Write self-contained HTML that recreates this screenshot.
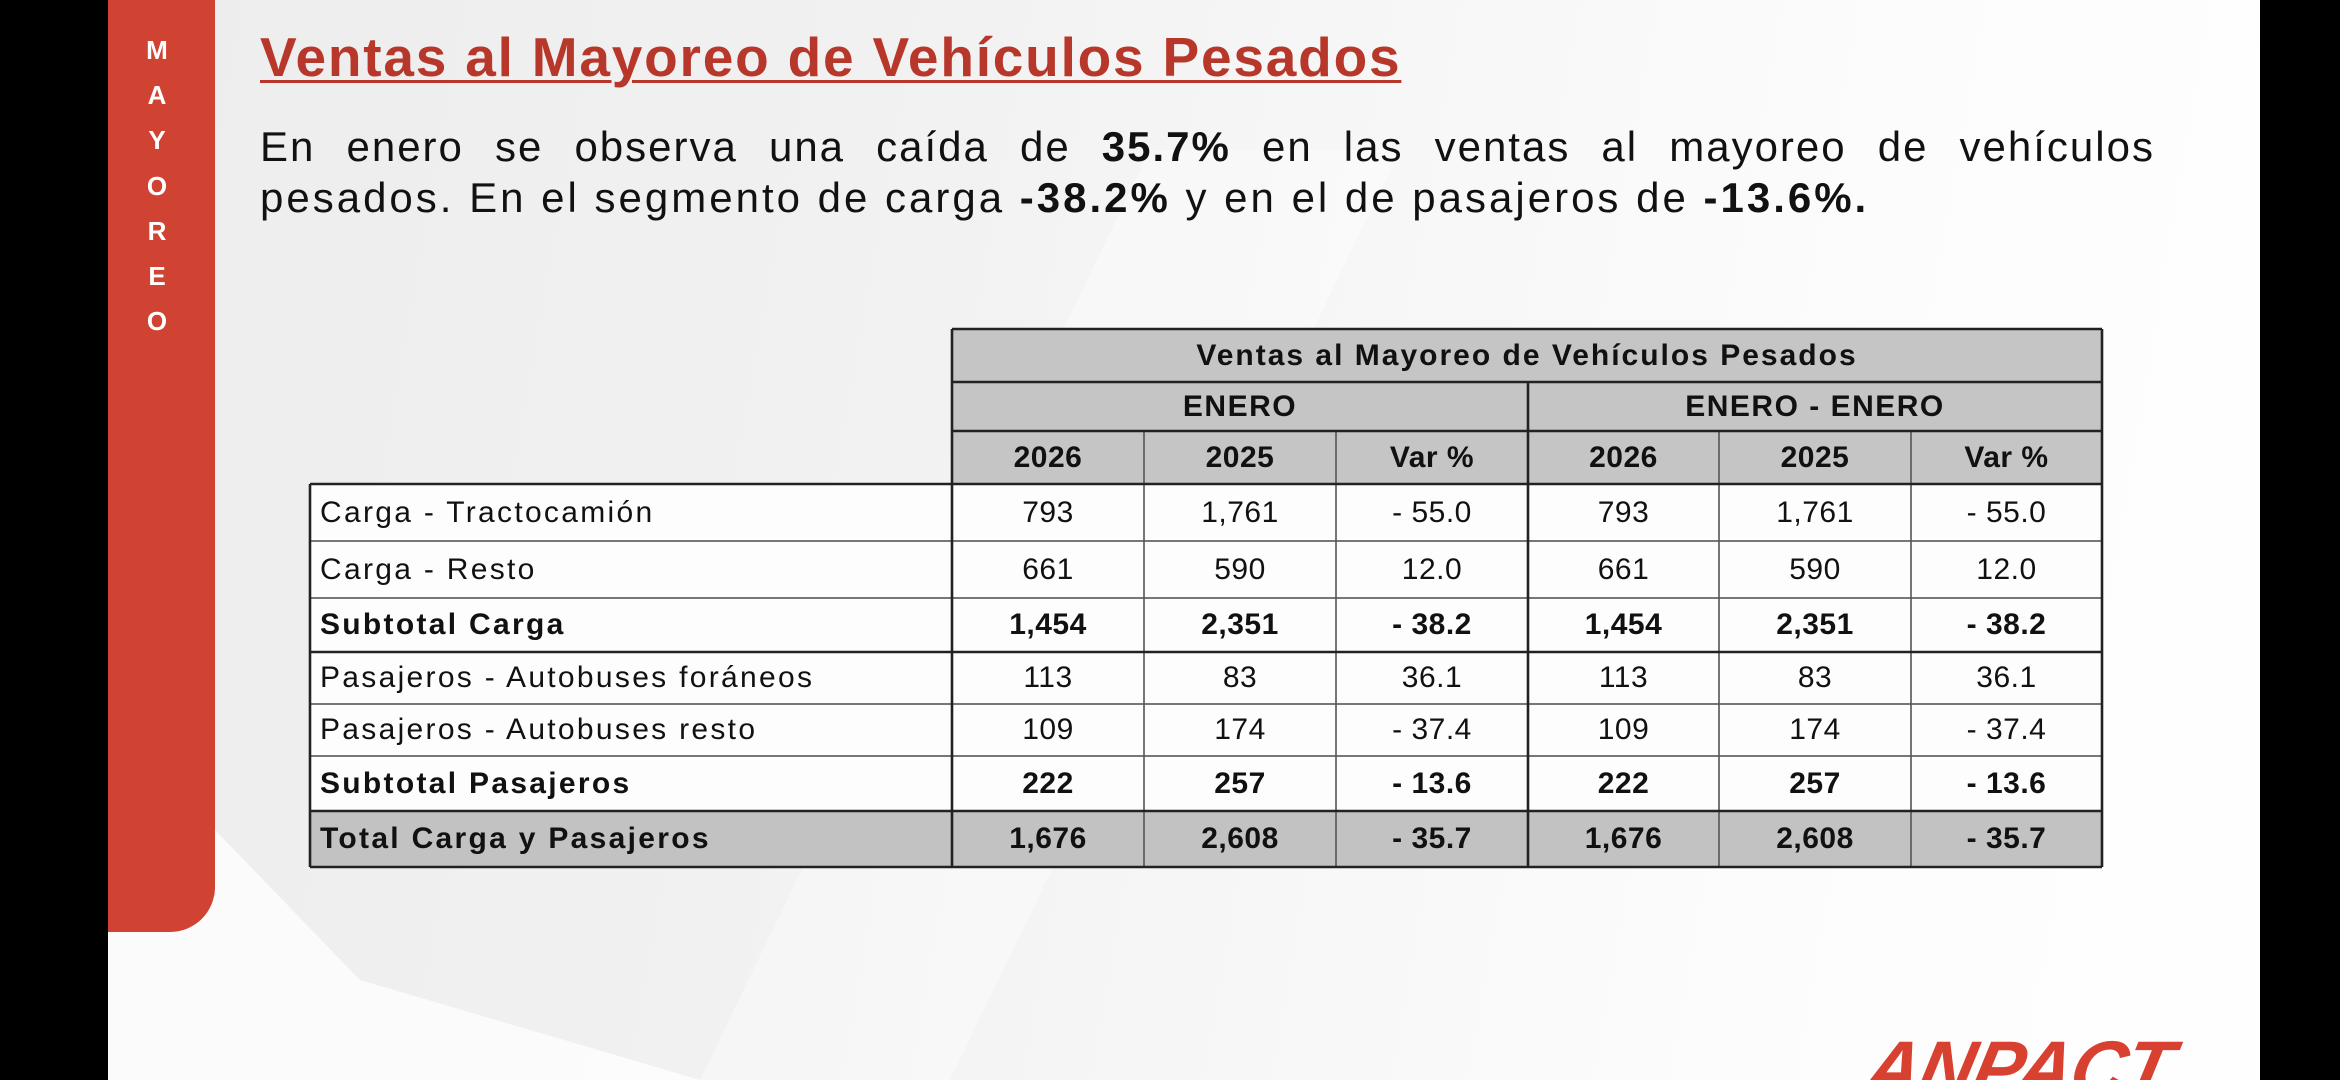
<!DOCTYPE html>
<html>
<head>
<meta charset="utf-8">
<style>
  html, body { margin:0; padding:0; width:2340px; height:1080px; overflow:hidden; }
  body { font-family:"Liberation Sans", Arial, sans-serif; color:#111; }
  #wrap { position:relative; width:2340px; height:1080px; overflow:hidden; background:#f4f4f4; }
  .abs { position:absolute; }
  .bg { left:0; top:0; width:2340px; height:1080px; background: linear-gradient(100deg, #ececec 0%, #f1f1f1 35%, #f8f8f8 60%, #fdfdfd 80%, #fefefe 100%); }
  .black { background:#000; }
  .red { left:108px; top:0; width:107px; height:932px; background:#d04332; border-bottom-right-radius:45px; }
  .vl { color:#fff; font-weight:bold; font-size:26px; width:40px; text-align:center; left:137px; line-height:26px; }
  .title { left:260px; top:30px; font-size:55px; line-height:55px; font-weight:bold; color:#b8372b; letter-spacing:1.8px; white-space:nowrap; text-decoration:underline; text-decoration-thickness:3px; text-underline-offset:4px; }
  .p1 { left:260px; top:126px; width:1895px; font-size:42px; line-height:42px; text-align:justify; text-align-last:justify; letter-spacing:2px; white-space:nowrap; }
  .p2 { left:260px; top:177px; font-size:42px; line-height:42px; letter-spacing:3px; white-space:nowrap; }
  .c { position:absolute; display:flex; align-items:center; justify-content:center; font-size:30px; white-space:nowrap; letter-spacing:0.5px; }
  .l { justify-content:flex-start; padding-left:10px; box-sizing:border-box; letter-spacing:2.3px; }
  .b { font-weight:bold; }
  .logo { left:1858px; top:1031px; font-size:76px; line-height:76px; font-weight:bold; font-style:italic; color:#d8412f; letter-spacing:-1px; white-space:nowrap; transform:skewX(-12deg); transform-origin:left bottom; }
</style>
</head>
<body>
<div id="wrap">
<div class="abs bg"></div>
<svg class="abs" style="left:0;top:0" width="2340" height="1080">
  <polygon points="108,830 215,830 360,980 700,1080 108,1080" fill="#ffffff" opacity="0.75"/>
  <polygon points="700,1080 1150,150 1400,150 950,1080" fill="#ffffff" opacity="0.35"/>
</svg>
<div class="abs black" style="left:0;top:0;width:108px;height:1080px"></div>
<div class="abs black" style="left:2260px;top:0;width:80px;height:1080px"></div>
<div class="abs red"></div>
<div class="abs vl" style="top:37px">M</div>
<div class="abs vl" style="top:82px">A</div>
<div class="abs vl" style="top:127px">Y</div>
<div class="abs vl" style="top:173px">O</div>
<div class="abs vl" style="top:218px">R</div>
<div class="abs vl" style="top:263px">E</div>
<div class="abs vl" style="top:308px">O</div>

<div class="abs title">Ventas al Mayoreo de Vehículos Pesados</div>
<div class="abs p1">En enero se observa una caída de <b>35.7%</b> en las ventas al mayoreo de vehículos</div>
<div class="abs p2">pesados. En el segmento de carga <b>-38.2%</b> y en el de pasajeros de <b>-13.6%.</b></div>

<div class="abs" style="left:952px;top:329px;width:1150px;height:155px;background:#c5c5c5"></div>
<div class="abs" style="left:310px;top:484px;width:1792px;height:327px;background:#fdfdfd"></div>
<div class="abs" style="left:310px;top:811px;width:1792px;height:56px;background:#c2c2c2"></div>

<svg class="abs" style="left:0;top:0" width="2340" height="1080">
  <g stroke="#777" stroke-width="2">
    <line x1="310" y1="541" x2="2102" y2="541"/>
    <line x1="310" y1="598" x2="2102" y2="598"/>
    <line x1="310" y1="704" x2="2102" y2="704"/>
    <line x1="310" y1="756" x2="2102" y2="756"/>
  </g>
  <g stroke="#555" stroke-width="1.6">
    <line x1="1144" y1="431" x2="1144" y2="867"/>
    <line x1="1336" y1="431" x2="1336" y2="867"/>
    <line x1="1719" y1="431" x2="1719" y2="867"/>
    <line x1="1911" y1="431" x2="1911" y2="867"/>
  </g>
  <g stroke="#222" stroke-width="2.6">
    <line x1="952" y1="329" x2="2102" y2="329"/>
    <line x1="952" y1="382" x2="2102" y2="382"/>
    <line x1="952" y1="431" x2="2102" y2="431"/>
    <line x1="310" y1="484" x2="2102" y2="484"/>
    <line x1="310" y1="652" x2="2102" y2="652"/>
    <line x1="310" y1="811" x2="2102" y2="811"/>
    <line x1="310" y1="867" x2="2102" y2="867"/>
    <line x1="310" y1="484" x2="310" y2="867"/>
    <line x1="952" y1="329" x2="952" y2="867"/>
    <line x1="1528" y1="382" x2="1528" y2="867"/>
    <line x1="2102" y1="329" x2="2102" y2="867"/>
  </g>
</svg>

<div class="c b" style="left:952px;top:329px;width:1150px;height:53px;letter-spacing:2px">Ventas al Mayoreo de Vehículos Pesados</div>
<div class="c b" style="left:952px;top:382px;width:576px;height:49px;letter-spacing:1.5px">ENERO</div>
<div class="c b" style="left:1528px;top:382px;width:574px;height:49px;letter-spacing:1.5px">ENERO - ENERO</div>
<div class="c b" style="left:952px;top:431px;width:192px;height:53px">2026</div>
<div class="c b" style="left:1144px;top:431px;width:192px;height:53px">2025</div>
<div class="c b" style="left:1336px;top:431px;width:192px;height:53px">Var %</div>
<div class="c b" style="left:1528px;top:431px;width:191px;height:53px">2026</div>
<div class="c b" style="left:1719px;top:431px;width:192px;height:53px">2025</div>
<div class="c b" style="left:1911px;top:431px;width:191px;height:53px">Var %</div>

<div class="c l" style="left:310px;top:484px;width:642px;height:57px">Carga - Tractocamión</div>
<div class="c" style="left:952px;top:484px;width:192px;height:57px">793</div>
<div class="c" style="left:1144px;top:484px;width:192px;height:57px">1,761</div>
<div class="c" style="left:1336px;top:484px;width:192px;height:57px">- 55.0</div>
<div class="c" style="left:1528px;top:484px;width:191px;height:57px">793</div>
<div class="c" style="left:1719px;top:484px;width:192px;height:57px">1,761</div>
<div class="c" style="left:1911px;top:484px;width:191px;height:57px">- 55.0</div>

<div class="c l" style="left:310px;top:541px;width:642px;height:57px">Carga - Resto</div>
<div class="c" style="left:952px;top:541px;width:192px;height:57px">661</div>
<div class="c" style="left:1144px;top:541px;width:192px;height:57px">590</div>
<div class="c" style="left:1336px;top:541px;width:192px;height:57px">12.0</div>
<div class="c" style="left:1528px;top:541px;width:191px;height:57px">661</div>
<div class="c" style="left:1719px;top:541px;width:192px;height:57px">590</div>
<div class="c" style="left:1911px;top:541px;width:191px;height:57px">12.0</div>

<div class="c l b" style="left:310px;top:598px;width:642px;height:54px">Subtotal Carga</div>
<div class="c b" style="left:952px;top:598px;width:192px;height:54px">1,454</div>
<div class="c b" style="left:1144px;top:598px;width:192px;height:54px">2,351</div>
<div class="c b" style="left:1336px;top:598px;width:192px;height:54px">- 38.2</div>
<div class="c b" style="left:1528px;top:598px;width:191px;height:54px">1,454</div>
<div class="c b" style="left:1719px;top:598px;width:192px;height:54px">2,351</div>
<div class="c b" style="left:1911px;top:598px;width:191px;height:54px">- 38.2</div>

<div class="c l" style="left:310px;top:652px;width:642px;height:52px">Pasajeros - Autobuses foráneos</div>
<div class="c" style="left:952px;top:652px;width:192px;height:52px">113</div>
<div class="c" style="left:1144px;top:652px;width:192px;height:52px">83</div>
<div class="c" style="left:1336px;top:652px;width:192px;height:52px">36.1</div>
<div class="c" style="left:1528px;top:652px;width:191px;height:52px">113</div>
<div class="c" style="left:1719px;top:652px;width:192px;height:52px">83</div>
<div class="c" style="left:1911px;top:652px;width:191px;height:52px">36.1</div>

<div class="c l" style="left:310px;top:704px;width:642px;height:52px">Pasajeros - Autobuses resto</div>
<div class="c" style="left:952px;top:704px;width:192px;height:52px">109</div>
<div class="c" style="left:1144px;top:704px;width:192px;height:52px">174</div>
<div class="c" style="left:1336px;top:704px;width:192px;height:52px">- 37.4</div>
<div class="c" style="left:1528px;top:704px;width:191px;height:52px">109</div>
<div class="c" style="left:1719px;top:704px;width:192px;height:52px">174</div>
<div class="c" style="left:1911px;top:704px;width:191px;height:52px">- 37.4</div>

<div class="c l b" style="left:310px;top:756px;width:642px;height:55px">Subtotal Pasajeros</div>
<div class="c b" style="left:952px;top:756px;width:192px;height:55px">222</div>
<div class="c b" style="left:1144px;top:756px;width:192px;height:55px">257</div>
<div class="c b" style="left:1336px;top:756px;width:192px;height:55px">- 13.6</div>
<div class="c b" style="left:1528px;top:756px;width:191px;height:55px">222</div>
<div class="c b" style="left:1719px;top:756px;width:192px;height:55px">257</div>
<div class="c b" style="left:1911px;top:756px;width:191px;height:55px">- 13.6</div>

<div class="c l b" style="left:310px;top:811px;width:642px;height:56px">Total Carga y Pasajeros</div>
<div class="c b" style="left:952px;top:811px;width:192px;height:56px">1,676</div>
<div class="c b" style="left:1144px;top:811px;width:192px;height:56px">2,608</div>
<div class="c b" style="left:1336px;top:811px;width:192px;height:56px">- 35.7</div>
<div class="c b" style="left:1528px;top:811px;width:191px;height:56px">1,676</div>
<div class="c b" style="left:1719px;top:811px;width:192px;height:56px">2,608</div>
<div class="c b" style="left:1911px;top:811px;width:191px;height:56px">- 35.7</div>

<div class="abs logo">ANPACT</div>
</div>
</body>
</html>
